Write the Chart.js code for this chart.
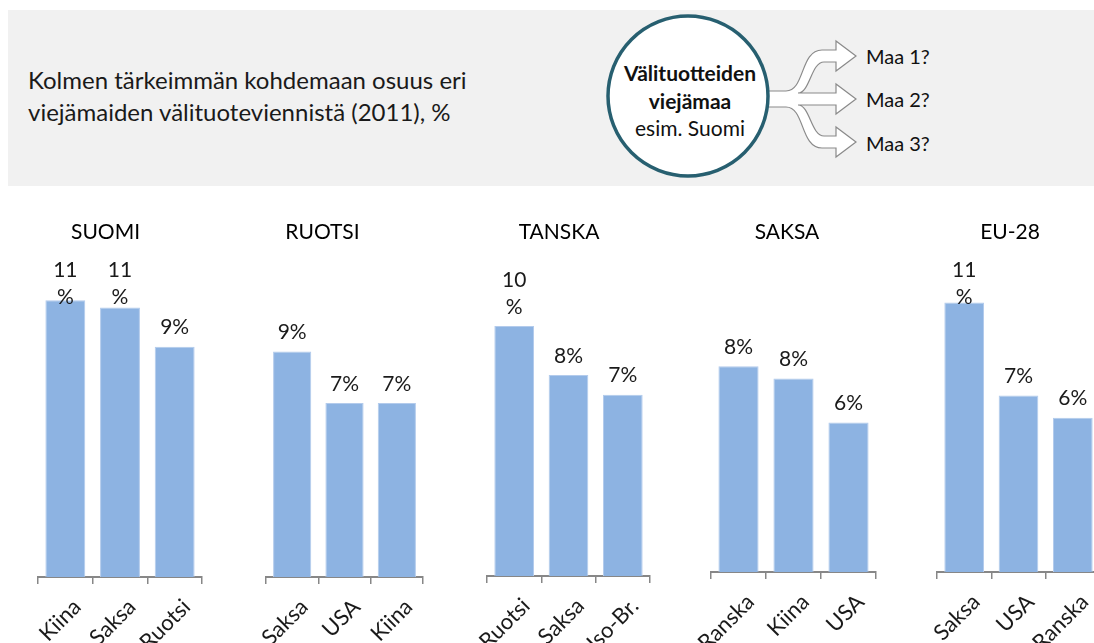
<!DOCTYPE html>
<html>
<head>
<meta charset="utf-8">
<script src="https://cdn.jsdelivr.net/npm/chart.js@4"></script>
<style>
  body { margin: 0; width: 1094px; height: 643px; overflow: hidden; position: relative; background: #fff; font-family: Lato, sans-serif; }
  #head { position: absolute; left: 8px; top: 10px; width: 1086px; height: 176px; background: #f1f1f1; }
  #headText { position: absolute; left: 28px; top: 64px; font-size: 24px; line-height: 32px; color: #1a1a1a; }
  #diagram { position: absolute; left: 0; top: 0; }
  canvas { position: absolute; top: 200px; }
</style>
</head>
<body>
<div id="head"></div>
<div id="headText">Kolmen tärkeimmän kohdemaan osuus eri<br>viejämaiden välituoteviennistä (2011), %</div>
<svg id="diagram" width="1094" height="200">
  <path d="M 766 91 L 786 91 C 805 91, 800 50, 822 50 L 836 50 L 836 41 L 856 56 L 836 71 L 836 62 L 824 62
           C 811 62, 810 93, 798 93 L 836 93 L 836 84 L 856 99 L 836 114 L 836 105 L 798 105
           C 810 105, 811 136, 824 136 L 836 136 L 836 127 L 856 142 L 836 157 L 836 148 L 822 148
           C 800 148, 805 107, 786 107 L 766 107 Z"
        fill="#fff" stroke="#8a8a8a" stroke-width="1.2"/>
  <circle cx="688" cy="96" r="80" fill="#fff" stroke="#275f70" stroke-width="3.5"/>
  <g font-family="Lato, sans-serif" font-size="21" fill="#111" text-anchor="middle" dominant-baseline="central">
    <text x="690" y="72" font-weight="bold">Välituotteiden</text>
    <text x="690" y="100" font-weight="bold">viejämaa</text>
    <text x="690" y="127">esim. Suomi</text>
  </g>
  <g font-family="Lato, sans-serif" font-size="20" fill="#111" dominant-baseline="central">
    <text x="866" y="56">Maa 1?</text>
    <text x="866" y="99">Maa 2?</text>
    <text x="866" y="143">Maa 3?</text>
  </g>
</svg>
<script>
const titles = ["SUOMI", "RUOTSI", "TANSKA", "SAKSA", "EU-28"];

const suomiLabels = ["Kiina", "Saksa", "Ruotsi"];
const suomiValues = [11.3, 11.0, 9.4];
const ruotsiLabels = ["Saksa", "USA", "Kiina"];
const ruotsiValues = [9.2, 7.1, 7.1];
const tanskaLabels = ["Ruotsi", "Saksa", "Iso-Br."];
const tanskaValues = [10.2, 8.2, 7.4];
const saksaLabels = ["Ranska", "Kiina", "USA"];
const saksaValues = [8.4, 7.9, 6.1];
const euLabels = ["Saksa", "USA", "Ranska"];
const euValues = [11.0, 7.2, 6.3];

const allLabels = [suomiLabels, ruotsiLabels, tanskaLabels, saksaLabels, euLabels];
const allValues = [suomiValues, ruotsiValues, tanskaValues, saksaValues, euValues];

// where each panel sits on the page
const panels = [
  { plotLeft: 38, plotRight: 202, baseline: 577, yW: 29 },
  { plotLeft: 266, plotRight: 423, baseline: 577, yW: 44 },
  { plotLeft: 487, plotRight: 650, baseline: 576, yW: 19 },
  { plotLeft: 711, plotRight: 876, baseline: 572, yW: 13 },
  { plotLeft: 937, plotRight: 1100, baseline: 572, yW: 17 },
];

const FONT = "Lato, sans-serif";
const TOP = 200;
const PAD_L = 30;
const PAD_R = 4;
const Y_MAX = 12;
const PX_PER_UNIT = 24.5;

// value labels above the bars, wrapped like the original when too wide
const barLabels = {
  id: "barLabels",
  afterDatasetsDraw(chart) {
    const ctx = chart.ctx;
    const meta = chart.getDatasetMeta(0);
    ctx.save();
    ctx.font = "21px " + FONT;
    ctx.fillStyle = "#1a1a1a";
    ctx.textAlign = "center";
    ctx.textBaseline = "middle";
    meta.data.forEach((bar, i) => {
      const n = Math.round(chart.data.datasets[0].data[i]);
      const lines = n >= 10 ? [String(n), "%"] : [n + "%"];
      let y = bar.y - 19 - (lines.length - 1) * 27;
      if (lines.length > 1) y = Math.max(y, 70);
      lines.forEach((t, k) => ctx.fillText(t, bar.x, y + k * 27));
    });
    ctx.restore();
  },
};

titles.forEach((title, i) => {
  const p = panels[i];
  const left = p.plotLeft - p.yW - PAD_L;
  const width = p.plotRight - left + PAD_R;
  const height = 643 - TOP;
  const plotTop = p.baseline - Y_MAX * PX_PER_UNIT;
  const titleLine = 21 * 1.2;

  const canvas = document.createElement("canvas");
  canvas.width = width;
  canvas.height = height;
  canvas.style.left = left + "px";
  document.body.appendChild(canvas);

  new Chart(canvas, {
    type: "bar",
    data: {
      labels: allLabels[i],
      datasets: [
        {
          data: allValues[i],
          backgroundColor: "#8db3e2",
          borderColor: "#b3cbec",
          borderWidth: 1,
          categoryPercentage: 1,
          barPercentage: 0.73,
        },
      ],
    },
    options: {
      responsive: false,
      animation: false,
      layout: { padding: { left: PAD_L, right: PAD_R, top: 0, bottom: 0 } },
      plugins: {
        legend: { display: false },
        tooltip: { enabled: false },
        title: {
          display: true,
          text: title,
          color: "#000",
          font: { family: FONT, size: 21, weight: "normal" },
          padding: { top: 20, bottom: plotTop - TOP - 20 - titleLine },
        },
      },
      scales: {
        x: {
          grid: {
            display: true,
            drawOnChartArea: false,
            drawTicks: true,
            tickLength: 7,
            color: "#878787",
            lineWidth: 1.5,
          },
          border: { display: true, color: "#878787", width: 2 },
          ticks: {
            autoSkip: false,
            maxRotation: 45,
            minRotation: 45,
            padding: 10,
            labelOffset: 12,
            color: "#1a1a1a",
            font: { family: FONT, size: 22 },
          },
          afterFit(s) {
            s.height = 643 - p.baseline;
            s.paddingLeft = 0;
            s.paddingRight = 0;
          },
        },
        y: {
          min: 0,
          max: Y_MAX,
          grid: { display: false },
          border: { display: false },
          ticks: { display: false },
          afterFit(s) {
            s.width = p.yW;
          },
        },
      },
    },
    plugins: [barLabels],
  });
});
</script>
</body>
</html>
